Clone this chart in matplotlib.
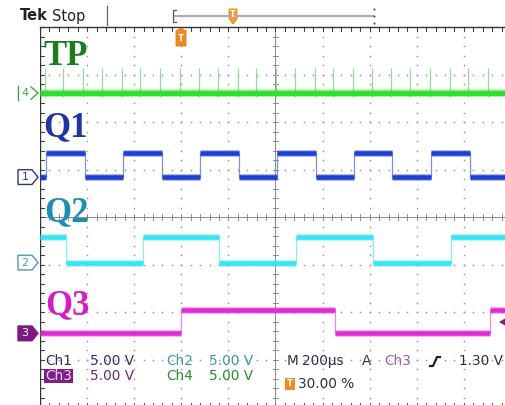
import matplotlib
matplotlib.use('Agg')
import matplotlib.pyplot as plt
from matplotlib import transforms
from matplotlib.patches import Polygon, Rectangle

W, H, DPI = 506, 405, 100

# ---------------- data ----------------
us_per_div = 200
volts_per_div = 5.0
# channel ground-marker positions, divisions from screen centre
ch4_offset_div = 2.61
ch1_offset_div = 0.84
ch2_offset_div = -0.96
ch3_offset_div = -2.45

# Q1 (Ch1) : step times (µs) and levels (V)
q1_times_us = [0, 24, 191, 352, 518, 679, 845, 1006, 1172, 1333, 1495, 1660, 1826, 2000]
q1_levels_v = [0, 2.5, 0, 2.5, 0, 2.5, 0, 2.5, 0, 2.5, 0, 2.5, 0]
# Q2 (Ch2)
q2_times_us = [0, 110, 437, 760, 1087, 1414, 1745, 2000]
q2_levels_v = [2.65, 0, 2.65, 0, 2.65, 0, 2.65]
# Q3 (Ch3)
q3_times_us = [0, 599, 1253, 1911, 2000]
q3_levels_v = [0, 2.45, 0, 2.45]
# TP (Ch4) : narrow pulses
tp_spike_times_us = [21, 98, 183, 263, 348, 425, 510, 594, 675, 756, 841, 917,
                     1002, 1083, 1168, 1244, 1329, 1410, 1490, 1571, 1656, 1741,
                     1817, 1902]
tp_spike_v = 2.6

labels = ['TP', 'Q1', 'Q2', 'Q3']

# ---------------- figure ----------------
fig = plt.figure(figsize=(W / DPI, H / DPI), dpi=DPI)
fig.patch.set_facecolor('white')

# graticule axes: left px 40, width 471 px, top px 27, bottom px 407
ax = fig.add_axes([40 / W, (H - 407) / H, 471 / W, 380 / H])
ax.set_xlim(0, 10 * us_per_div)
ax.set_ylim(-4, 4)
ax.axis('off')

gcol = '#9a9a9a'
xmax = 10 * us_per_div
minor_x = [i * us_per_div / 5 for i in range(51)]
minor_y = [-4 + i * 0.2 for i in range(41)]
# dotted division lines
for k in range(1, 10):
    if k == 5:
        continue
    x = k * us_per_div
    ax.plot([x] * len(minor_y), minor_y, ls='none', marker='s', ms=1.1,
            color=gcol, mew=0, zorder=1)
for k in range(-3, 4):
    if k == 0:
        continue
    ax.plot(minor_x, [k] * len(minor_x), ls='none', marker='s', ms=1.1,
            color=gcol, mew=0, zorder=1)
# centre cross with ticks
ax.plot([0, xmax], [0, 0], color='#7a7a7a', lw=0.6, zorder=1)
ax.plot([xmax / 2, xmax / 2], [-4, 4], color='#7a7a7a', lw=0.6, zorder=1)
tx = 0.07
ty = 12
for x in minor_x:
    ax.plot([x, x], [-tx, tx], color='#7a7a7a', lw=0.6, zorder=1)
    ax.plot([x, x], [4, 4 - 0.09], color='#444444', lw=0.8, zorder=1, clip_on=False)
    ax.plot([x, x], [-4, -4 + 0.09], color='#666666', lw=0.8, zorder=1, clip_on=False)
for y in minor_y:
    ax.plot([xmax / 2 - ty, xmax / 2 + ty], [y, y], color='#7a7a7a', lw=0.6, zorder=1)
    ax.plot([0, 17], [y, y], color='#444444', lw=0.8, zorder=1)
# frame edges
ax.plot([0, 0], [-4, 4], color='#333333', lw=1.0, zorder=2)
ax.plot([-2, xmax], [4, 4], color='#333333', lw=1.0, zorder=2, clip_on=False)


def draw_square(times, levels, off, col, edge_col):
    for i, v in enumerate(levels):
        y = off + v / volts_per_div
        ax.plot([times[i], times[i + 1]], [y, y], color=col, lw=5.0, alpha=0.35,
                solid_capstyle='butt', zorder=4)
        ax.plot([times[i], times[i + 1]], [y, y], color=col, lw=3.3,
                solid_capstyle='butt', zorder=5)
    for i in range(1, len(levels)):
        y0 = off + levels[i - 1] / volts_per_div
        y1 = off + levels[i] / volts_per_div
        ax.plot([times[i], times[i]], [y0, y1], color=edge_col, lw=0.9, zorder=4)


# TP (Ch4)
ax.vlines(tp_spike_times_us, ch4_offset_div - 0.08,
          ch4_offset_div + tp_spike_v / volts_per_div,
          color='#9ad89a', lw=0.9, zorder=3)
ax.plot([0, xmax], [ch4_offset_div] * 2, color='#30e030', lw=5.4, alpha=0.4,
        solid_capstyle='butt', zorder=4)
ax.plot([0, xmax], [ch4_offset_div] * 2, color='#2fe02f', lw=3.8,
        solid_capstyle='butt', zorder=5)

draw_square(q1_times_us, q1_levels_v, ch1_offset_div, '#1d3fd4', '#7f90e0')
draw_square(q2_times_us, q2_levels_v, ch2_offset_div, '#38e6f2', '#8deef6')
draw_square(q3_times_us, q3_levels_v, ch3_offset_div, '#e22ad6', '#ee8ae6')

# ---------------- overlay in pixel coordinates ----------------
ov = fig.add_axes([0, 0, 1, 1], zorder=10)
ov.set_xlim(0, W)
ov.set_ylim(H, 0)
ov.axis('off')

# big channel labels
lab_cols = ['#1b7d1b', '#2133a6', '#1f8db0', '#d41ec4']
lab_pos = [(43, 65), (43, 136), (44, 221), (45, 314)]
for s, c, (x, y) in zip(labels, lab_cols, lab_pos):
    ov.text(x, y, s, fontsize=25, fontweight='bold', family='Liberation Serif',
            color=c, va='baseline', ha='left')

# channel ground markers (y follows the channel offsets)
bl = transforms.blended_transform_factory(ov.transData, ax.transData)


def marker(off, txt, col, filled):
    h = 0.155
    pts = [(18, off + h), (32, off + h), (38, off), (32, off - h), (18, off - h)]
    ov.add_patch(Polygon(pts, closed=True, transform=bl,
                         facecolor=col if filled else 'white', edgecolor=col,
                         lw=1.0, zorder=12))
    ov.text(25, off, txt, transform=bl, fontsize=8, ha='center', va='center',
            color='white' if filled else col, zorder=13)


marker(ch1_offset_div, '1', '#2c3a7a', False)
marker(ch2_offset_div, '2', '#4aa0a0', False)
marker(ch3_offset_div, '3', '#7a1a84', True)
# Ch4 marker: "|4>"
g4 = '#48a048'
ov.plot([18, 18], [ch4_offset_div - 0.14, ch4_offset_div + 0.14], color=g4, lw=1,
        transform=bl)
ov.text(25, ch4_offset_div, '4', transform=bl, fontsize=8, ha='center',
        va='center', color=g4)
ov.plot([31, 38, 31], [ch4_offset_div + 0.13, ch4_offset_div, ch4_offset_div - 0.13],
        color=g4, lw=1, transform=bl)

# top status bar
ov.text(20, 16, 'Tek', fontsize=10.5, fontweight='bold', color='#222222',
        va='center', ha='left')
ov.text(52, 16, 'Stop', fontsize=10.5, color='#222222', va='center', ha='left')
ov.plot([107, 107], [6, 25], color='#666666', lw=0.9)
ov.plot([175, 373], [16, 16], color='#b4a6c4', lw=1.6)
ov.plot([176, 173, 173, 176], [10, 10, 22, 22], color='#555555', lw=0.9)
ov.plot([374, 374, 374], [9, 16, 23], ls='none', marker='s', ms=1.3,
        color='#444444', mew=0)
# record-position marker
ov.add_patch(Polygon([(229, 9), (237, 9), (237, 19), (233, 24), (229, 19)],
                     closed=True, facecolor='#f0a030', edgecolor='#e08a10', lw=0.6))
ov.text(233, 14.5, 'T', fontsize=5.5, color='white', ha='center', va='center',
        fontweight='bold')
# trigger-position marker
ov.add_patch(Polygon([(176, 31), (181, 28), (186, 31), (186, 46), (176, 46)],
                     closed=True, facecolor='#f08a20', edgecolor='#e07a10', lw=0.6))
ov.text(181, 38.5, 'T', fontsize=6.5, color='white', ha='center', va='center',
        fontweight='bold')
# trigger level arrow
ov.add_patch(Polygon([(499, 322), (506, 318), (506, 326)], closed=True,
                     facecolor='#6a2a70', edgecolor='none'))

# readouts
fs = 9.8
r1, r2, r3 = 361, 376, 384
ov.text(45, r1, 'Ch1', fontsize=fs, color='#2e2e6e', va='center')
ov.text(90, r1, '5.00 V', fontsize=fs, color='#2e2e6e', va='center')
ov.text(166, r1, 'Ch2', fontsize=fs, color='#3c9a9a', va='center')
ov.text(209, r1, '5.00 V', fontsize=fs, color='#3c9a9a', va='center')
ov.add_patch(Rectangle((44, 369), 29, 14, facecolor='#7e1e88', edgecolor='none'))
ov.text(45, r2, 'Ch3', fontsize=fs, color='#f4d4f4', va='center')
ov.text(90, r2, '5.00 V', fontsize=fs, color='#6c2a78', va='center')
ov.text(166, r2, 'Ch4', fontsize=fs, color='#2e8a2e', va='center')
ov.text(209, r2, '5.00 V', fontsize=fs, color='#2e8a2e', va='center')

ov.text(287, r1, 'M', fontsize=fs, color='#303040', va='center')
ov.text(302, r1, '200µs', fontsize=fs, color='#303040', va='center')
ov.text(362, r1, 'A', fontsize=fs, color='#303040', va='center')
ov.text(384, r1, 'Ch3', fontsize=fs, color='#a45aa4', va='center')
ov.plot([430, 433, 437, 440], [366, 366, 357, 357], color='#222222', lw=1.6)
ov.text(459, r1, '1.30 V', fontsize=fs, color='#303040', va='center')
ov.add_patch(Rectangle((285, 378), 10, 12, facecolor='#f08a20', edgecolor='none'))
ov.text(290, r3, 'T', fontsize=6.5, color='white', ha='center', va='center',
        fontweight='bold')
ov.text(298, r3, '30.00 %', fontsize=fs, color='#303040', va='center')

fig.savefig('out.png', dpi=DPI, facecolor='white')
